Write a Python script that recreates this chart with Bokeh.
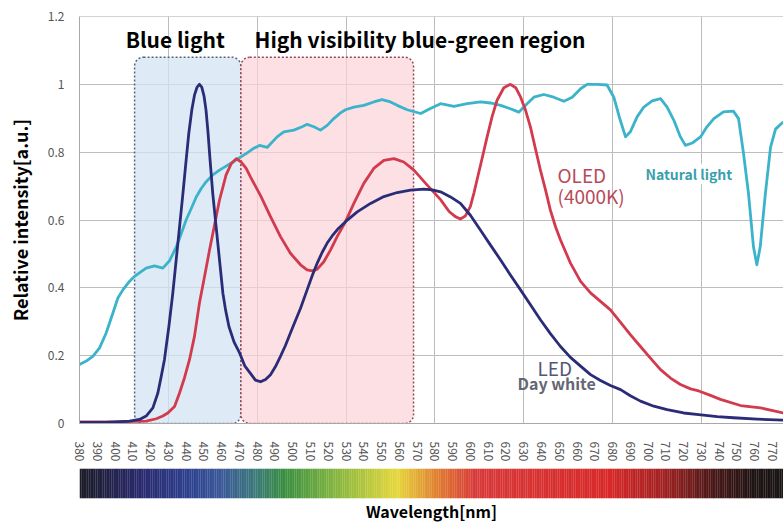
import numpy as np
from bokeh.plotting import figure
from bokeh.models import Range1d, FixedTicker, Label, ColumnDataSource, Span
from bokeh.layouts import column
from bokeh.embed import file_html
from bokeh.resources import INLINE

FONT = "Noto Sans CJK JP"

# ---------------- data ----------------
x_ticks = list(range(380, 780, 10))
x_grid = [430, 480, 530, 580, 630, 680, 730]
y_ticks = [0, 0.2, 0.4, 0.6, 0.8, 1.0, 1.2]
y_tick_labels = ["0", "0.2", "0.4", "0.6", "0.8", "1", "1.2"]

region_names = ["Blue light", "High visibility blue-green region"]
region_start = [411, 470.8]
region_end = [470.8, 568]

led_nm = [380, 395, 408.1, 413.8, 417.5, 421.3, 424.1, 426, 427.8, 430.3, 432.5, 434.4, 436.3,
          438.2, 440, 441.5, 443.2, 444.7, 446.2, 447.5, 448.8, 450.1, 451.2, 452.3, 453.5,
          455, 456.9, 458.8, 460.7, 462.2, 464.1, 467, 470.1, 473, 476.2, 479, 481.9, 484.7,
          487.5, 490.3, 493.1, 495.9, 498.7, 501.5, 504.4, 508.1, 510.9, 513.8, 516.6, 519.4,
          522.2, 525, 529.7, 536.3, 543.8, 551.3, 558.8, 566.3, 573.8, 578.5, 583.2, 588.8,
          594.4, 600, 605.7, 611.3, 617, 622.5, 628.2, 633.8, 639.4, 645, 650.7, 656.3, 662,
          667.6, 673.2, 678.8, 684.5, 690, 695.7, 703.2, 710.7, 720, 728.5, 738.9, 748,
          761.4, 776]
led_val = [0.003, 0.003, 0.007, 0.012, 0.022, 0.046, 0.09, 0.139, 0.188, 0.286, 0.384, 0.482,
           0.58, 0.678, 0.776, 0.855, 0.924, 0.968, 0.992, 1.0, 0.992, 0.965, 0.924, 0.86,
           0.776, 0.678, 0.58, 0.482, 0.384, 0.335, 0.286, 0.24, 0.208, 0.17, 0.148, 0.128,
           0.123, 0.13, 0.144, 0.168, 0.198, 0.23, 0.267, 0.303, 0.34, 0.394, 0.435, 0.473,
           0.505, 0.532, 0.553, 0.571, 0.595, 0.624, 0.649, 0.669, 0.681, 0.688, 0.691, 0.689,
           0.683, 0.668, 0.649, 0.614, 0.57, 0.526, 0.482, 0.438, 0.394, 0.35, 0.306, 0.265,
           0.227, 0.195, 0.169, 0.144, 0.127, 0.112, 0.1, 0.082, 0.066, 0.051, 0.041, 0.031,
           0.026, 0.02, 0.017, 0.013, 0.01]

oled_nm = [380, 400, 417.5, 423.2, 426.9, 429.7, 433.5, 436.3, 439.1, 441.9, 444.7, 447.5,
           450.4, 453.2, 456, 458.8, 462.5, 465.4, 468.2, 471, 473.8, 476.2, 479, 481.9, 487.5,
           493.1, 498.7, 504.4, 508.1, 511, 513.8, 517.5, 521.3, 525, 529.7, 534.4, 540,
           545.6, 551.3, 557, 562.5, 568.2, 575.7, 583.2, 588, 591.5, 594.4, 597.2, 600, 602,
           603.8, 606.5, 609.4, 612.2, 615, 618.8, 622.5, 625.5, 628.2, 631, 633.8, 636.6,
           639.4, 642.3, 645, 647.9, 650.7, 656.3, 662, 667.6, 673.2, 678.8, 684.5, 690,
           695.7, 701.3, 707, 712.6, 718.2, 723.9, 728.5, 735.1, 740.7, 752, 763.3, 776]
oled_val = [0.005, 0.005, 0.007, 0.014, 0.022, 0.031, 0.05, 0.09, 0.135, 0.188, 0.257, 0.355,
            0.434, 0.512, 0.585, 0.659, 0.733, 0.766, 0.781, 0.771, 0.752, 0.727, 0.7, 0.672,
            0.61, 0.551, 0.502, 0.468, 0.453, 0.45, 0.455, 0.477, 0.512, 0.551, 0.595, 0.649,
            0.708, 0.752, 0.776, 0.781, 0.771, 0.747, 0.703, 0.66, 0.625, 0.61, 0.603, 0.612,
            0.64, 0.68, 0.72, 0.78, 0.845, 0.905, 0.953, 0.99, 1.0, 0.99, 0.963, 0.924, 0.874,
            0.81, 0.747, 0.688, 0.629, 0.58, 0.541, 0.473, 0.419, 0.385, 0.36, 0.335, 0.298,
            0.262, 0.227, 0.193, 0.159, 0.134, 0.115, 0.102, 0.096, 0.083, 0.071, 0.053,
            0.046, 0.031]

nat_nm = [380, 383.8, 387.5, 391.3, 395, 398.8, 401.6, 404.4, 408.1, 411, 414.7, 417.5, 422.2,
          426.9, 430.7, 434.4, 437.2, 440, 442.9, 445.7, 448.5, 451.3, 455, 458.8, 462.5,
          466.3, 470.1, 473.8, 477.6, 481.3, 485.6, 491.2, 495, 500.6, 505.3, 508.1, 511.9,
          515.6, 519.4, 523.1, 526.9, 529.7, 534.4, 540, 545.6, 550.3, 555, 558.8, 564.4, 572,
          577.5, 583.2, 590.7, 598.2, 605.7, 611.3, 617, 622.5, 627.2, 631.9, 635.7, 641.3,
          646.9, 652.6, 657.3, 662, 665.7, 671.3, 676.9, 680.7, 684, 687.3, 690, 693.8, 697.6,
          702.3, 707, 710.7, 714.5, 718.2, 721, 724.8, 729.5, 733, 737, 742.4, 748, 750.9,
          753.7, 756.5, 759.3, 761.2, 763.1, 766, 768.9, 771.7, 776]
nat_val = [0.174, 0.184, 0.198, 0.223, 0.267, 0.326, 0.37, 0.394, 0.419, 0.434, 0.448, 0.458,
           0.465, 0.458, 0.48, 0.52, 0.559, 0.6, 0.634, 0.668, 0.693, 0.713, 0.733, 0.747,
           0.759, 0.771, 0.784, 0.796, 0.81, 0.82, 0.814, 0.845, 0.86, 0.865, 0.875, 0.882,
           0.875, 0.865, 0.879, 0.899, 0.916, 0.925, 0.933, 0.938, 0.948, 0.955, 0.948, 0.938,
           0.925, 0.914, 0.929, 0.943, 0.935, 0.943, 0.948, 0.945, 0.938, 0.928, 0.918, 0.943,
           0.962, 0.97, 0.962, 0.95, 0.962, 0.987, 1.0, 1.0, 0.998, 0.962, 0.9, 0.845, 0.86,
           0.904, 0.933, 0.951, 0.958, 0.933, 0.894, 0.845, 0.82, 0.827, 0.845, 0.874, 0.899,
           0.919, 0.921, 0.899, 0.796, 0.678, 0.521, 0.468, 0.521, 0.678, 0.814, 0.868, 0.889]

spec_stop_nm = [380, 412, 440, 459, 479, 495, 519, 558, 582, 602, 677, 709, 736, 760, 777]
spec_stop_col = ["#1c1c28", "#28286a", "#2e3f8e", "#3a5898", "#3a7a78", "#3a8f40", "#78b040",
                 "#e6d83a", "#e07a30", "#d83a3a", "#d82828", "#a02222", "#4a1818", "#1e1414",
                 "#1a1414"]

# ---------------- main chart ----------------
p = figure(width=783, height=464, x_range=Range1d(380, 776.2), y_range=Range1d(0, 1.2),
           output_backend="svg", toolbar_location=None,
           min_border_left=79, min_border_right=0, min_border_top=16, min_border_bottom=40)
p.outline_line_color = None
p.background_fill_color = "white"

p.xgrid.ticker = FixedTicker(ticks=x_grid)
p.ygrid.ticker = FixedTicker(ticks=y_ticks)
for g in (p.xgrid, p.ygrid):
    g.grid_line_color = "#bdbdbd"
    g.grid_line_width = 1

# regions
p.quad(left=[region_start[0]], right=[region_end[0]], bottom=[0], top=[1.08],
       border_radius=9, fill_color="#d3e4f3", fill_alpha=0.75,
       line_color="#56657d", line_dash="2 2", line_width=1.5)
p.quad(left=[region_start[1]], right=[region_end[1]], bottom=[0], top=[1.08],
       border_radius=9, fill_color="#fcd3d8", fill_alpha=0.7,
       line_color="#9a4858", line_dash="2 2", line_width=1.5)

# curves
p.line(nat_nm, nat_val, line_color="#3ab3cb", line_width=2.8, line_join="round")
p.line(oled_nm, oled_val, line_color="#d23a4e", line_width=2.8, line_join="round")
p.line(led_nm, led_val, line_color="#2b2c78", line_width=2.8, line_join="round")

p.add_layout(Span(location=1.2, dimension="width", line_color="#a8a8a8", line_width=1))

# axes
xa = p.xaxis[0]
xa.ticker = FixedTicker(ticks=x_ticks)
xa.major_label_orientation = "vertical"
xa.major_label_text_font = FONT
xa.major_label_text_font_size = "12px"
xa.major_label_text_color = "#555555"
xa.major_label_standoff = 12
xa.major_tick_line_color = None
xa.minor_tick_line_color = None
xa.axis_line_color = "#a8a8a8"

ya = p.yaxis[0]
ya.ticker = FixedTicker(ticks=y_ticks)
ya.major_label_overrides = {t: s for t, s in zip(y_ticks, y_tick_labels)}
ya.major_label_text_font = FONT
ya.major_label_text_font_size = "12px"
ya.major_label_text_color = "#555555"
ya.major_label_standoff = 9
ya.major_tick_line_color = None
ya.minor_tick_line_color = None
ya.axis_line_color = "#a8a8a8"
ya.axis_label = "Relative intensity[a.u.]"
ya.axis_label_text_font = FONT
ya.axis_label_text_font_size = "18px"
ya.axis_label_text_font_style = "bold"
ya.axis_label_text_color = "black"
ya.axis_label_standoff = 12

# annotations
def lab(x, y, text, size, color, style="normal", bg=None):
    p.add_layout(Label(x=x, y=y, text=text, text_font=FONT, text_font_size=size,
                       text_color=color, text_font_style=style, text_baseline="middle",
                       text_align="left", background_fill_color=bg))

lab(406.0, 1.135, region_names[0], "21px", "black", "bold")
lab(478.5, 1.135, region_names[1], "21px", "black", "bold")
lab(649, 0.734, "OLED", "19px", "#b84a58")
lab(649, 0.672, "(4000K)", "19px", "#b84a58")
lab(698.5, 0.735, "Natural light", "14px", "#3a9fae", "bold", "white")
lab(637.7, 0.165, "LED", "19px", "#55557a")
lab(626.5, 0.118, "Day white", "16px", "#666674", "bold")

# ---------------- spectrum bar ----------------
def hex2rgb(h):
    h = h.lstrip("#")
    return [int(h[i:i + 2], 16) for i in (0, 2, 4)]

stops = np.array([hex2rgb(c) for c in spec_stop_col], dtype=float)
grid_nm = np.arange(380, 777, 1.0)
cols = []
for wl in grid_nm:
    r, g, b = (np.interp(wl, spec_stop_nm, stops[:, k]) for k in range(3))
    cols.append("#%02x%02x%02x" % (int(r), int(g), int(b)))
bar_src = ColumnDataSource(dict(left=grid_nm, right=grid_nm + 1.1, color=cols))

p2 = figure(width=783, height=61, x_range=p.x_range, y_range=Range1d(0, 1),
            output_backend="svg", toolbar_location=None,
            min_border_left=79, min_border_right=0, min_border_top=4, min_border_bottom=24)
p2.outline_line_color = None
p2.grid.visible = False
p2.yaxis.visible = False
p2.quad(left="left", right="right", bottom=0, top=1, fill_color="color",
        line_color=None, source=bar_src)
xa2 = p2.xaxis[0]
xa2.ticker = FixedTicker(ticks=[])
xa2.axis_line_color = None
xa2.major_tick_line_color = None
xa2.minor_tick_line_color = None
xa2.major_label_standoff = 0
xa2.axis_label = "Wavelength[nm]"
xa2.axis_label_text_font = FONT
xa2.axis_label_text_font_size = "16px"
xa2.axis_label_text_font_style = "bold"
xa2.axis_label_text_color = "black"
xa2.axis_label_standoff = 0

layout = column(p, p2, spacing=0)
open("out.html", "w").write(file_html(layout, INLINE))
